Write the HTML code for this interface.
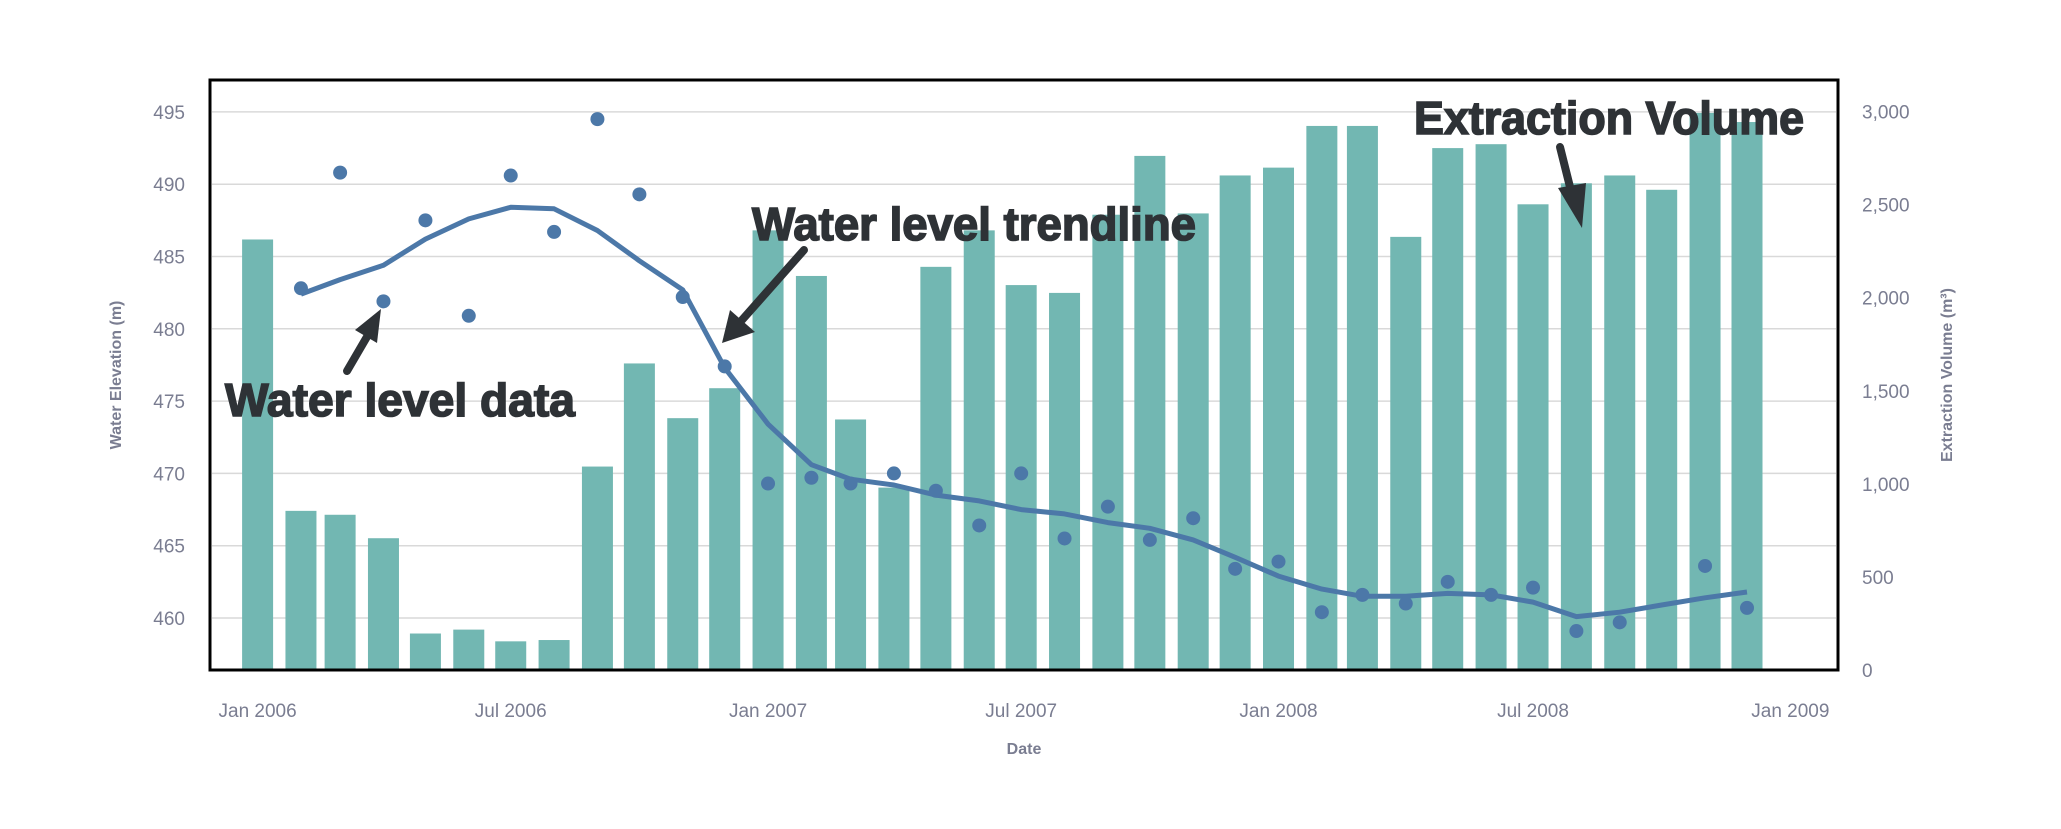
<!DOCTYPE html>
<html><head><meta charset="utf-8"><style>
body{margin:0;background:#fff;}
svg{display:block;font-family:"Liberation Sans",sans-serif;}
</style></head><body>
<svg id="chart" width="2061" height="829" viewBox="0 0 2061 829">
<g id="grid"></g>
<g id="bars"></g>
<g id="line"></g>
<g id="points"></g>
<rect x="210" y="80" width="1628" height="590" fill="none" stroke="#000" stroke-width="3"/>
<g id="ylticks"></g>
<g id="yrticks"></g>
<g id="xticks"></g>
<text x="117" y="375" transform="rotate(-90 117 375)" text-anchor="middle" dominant-baseline="middle" font-size="16" font-weight="bold" fill="#7a7d91">Water Elevation (m)</text>
<text x="1948" y="375" transform="rotate(-90 1948 375)" text-anchor="middle" dominant-baseline="middle" font-size="16" font-weight="bold" fill="#7a7d91">Extraction Volume (m³)</text>
<text x="1024" y="754" text-anchor="middle" font-size="16" font-weight="bold" fill="#7a7d91">Date</text>
<g fill="#2e3236" stroke="#2e3236">
<text x="225" y="416" font-size="46" font-weight="bold" stroke-width="1.6" textLength="350" lengthAdjust="spacingAndGlyphs">Water level data</text>
<text x="752" y="240" font-size="46" font-weight="bold" stroke-width="1.6" textLength="444" lengthAdjust="spacingAndGlyphs">Water level trendline</text>
<text x="1414" y="134" font-size="46" font-weight="bold" stroke-width="1.6" textLength="390" lengthAdjust="spacingAndGlyphs">Extraction Volume</text>
<line x1="347" y1="371" x2="368" y2="335" stroke-width="8" stroke-linecap="round"/>
<polygon points="381,309 355,330 377,343" stroke="none"/>
<line x1="804" y1="250" x2="742" y2="320" stroke-width="8" stroke-linecap="round"/>
<polygon points="722,343 730,310 755,332" stroke="none"/>
<line x1="1560" y1="147" x2="1572" y2="195" stroke-width="8" stroke-linecap="round"/>
<polygon points="1582,228 1558,188 1586,183" stroke="none"/>
</g>
</svg>
<script>
const months = Array.from({length:36},(_,i)=>i); // month index from Jan 2006
const volume = [2313,855,834,708,196,217,154,161,1093,1647,1353,1514,2362,2117,1346,980,2166,2362,2068,2026,2446,2762,2453,2657,2699,2923,2923,2327,2804,2825,2502,2615,2657,2580,2993,2944];
const levels = [null,482.8,490.8,481.9,487.5,480.9,490.6,486.7,494.5,489.3,482.2,477.4,469.3,469.7,469.3,470.0,468.8,466.4,470.0,465.5,467.7,465.4,466.9,463.4,463.9,460.4,461.6,461.0,462.5,461.6,462.1,459.1,459.7,null,463.6,460.7];
const trend = [null,482.4,483.4,484.4,486.2,487.6,488.4,488.3,486.8,484.7,482.7,477.3,473.4,470.6,469.6,469.2,468.5,468.1,467.5,467.2,466.6,466.2,465.4,464.2,462.9,462.0,461.5,461.5,461.7,461.6,461.1,460.1,460.4,460.9,461.4,461.8];
const leftTicks = [460,465,470,475,480,485,490,495];
const rightTicks = [0,500,1000,1500,2000,2500,3000];
const rightTickLabels = ["0","500","1,000","1,500","2,000","2,500","3,000"];
const xTickLabels = ["Jan 2006","Jul 2006","Jan 2007","Jul 2007","Jan 2008","Jul 2008","Jan 2009"];
const xTickMonths = [0,6,12,18,24,30,36];

const NS="http://www.w3.org/2000/svg";
const t0=Date.UTC(2006,0,1);
function xM(m){const d=(Date.UTC(2006,m,1)-t0)/86400000;return 257.6+d*1.3985;}
function yL(v){return 618-(v-460)*14.46;}
function yR(v){return 670-v*0.18613;}
function mk(tag,attrs,parent){const e=document.createElementNS(NS,tag);for(const k in attrs)e.setAttribute(k,attrs[k]);parent.appendChild(e);return e;}
const G=id=>document.getElementById(id);

leftTicks.forEach(v=>{
  const l=mk('line',{x1:212,x2:1836,y1:yL(v),y2:yL(v),stroke:'#d9d9d9','stroke-width':1.5},G('grid'));
  
  
  const t=mk('text',{x:185,y:yL(v)+7,'text-anchor':'end','font-size':19,fill:'#7a7d91'},G('ylticks'));
  t.textContent=v;
  
  
});
rightTicks.forEach((v,i)=>{
  const t=mk('text',{x:1862,y:yR(v)+7,'font-size':19,fill:'#7a7d91'},G('yrticks'));
  t.textContent=rightTickLabels[i];
  
  
});
xTickMonths.forEach((m,i)=>{
  const t=mk('text',{x:xM(m),y:717,'text-anchor':'middle','font-size':19,fill:'#7a7d91'},G('xticks'));
  t.textContent=xTickLabels[i];
  
  
});
months.forEach((m,i)=>{
  const x=xM(m),y=yR(volume[i]);
  const r=mk('rect',{x:x-15.5,y:y,width:31,height:669-y,fill:'#72b7b2'},G('bars'));
  
  
});
let d='';
months.forEach((m,i)=>{if(trend[i]!=null){d+=(d?'L':'M')+xM(m).toFixed(1)+','+yL(trend[i]).toFixed(1);}});
const p=mk('path',{d:d,fill:'none',stroke:'#4c78a8','stroke-width':5,'stroke-linejoin':'round'},G('line'));


months.forEach((m,i)=>{
  if(levels[i]==null)return;
  const c=mk('ellipse',{cx:xM(m),cy:yL(levels[i]),rx:7,ry:7,fill:'#4c78a8'},G('points'));
  
  
});
</script>
</body></html>
